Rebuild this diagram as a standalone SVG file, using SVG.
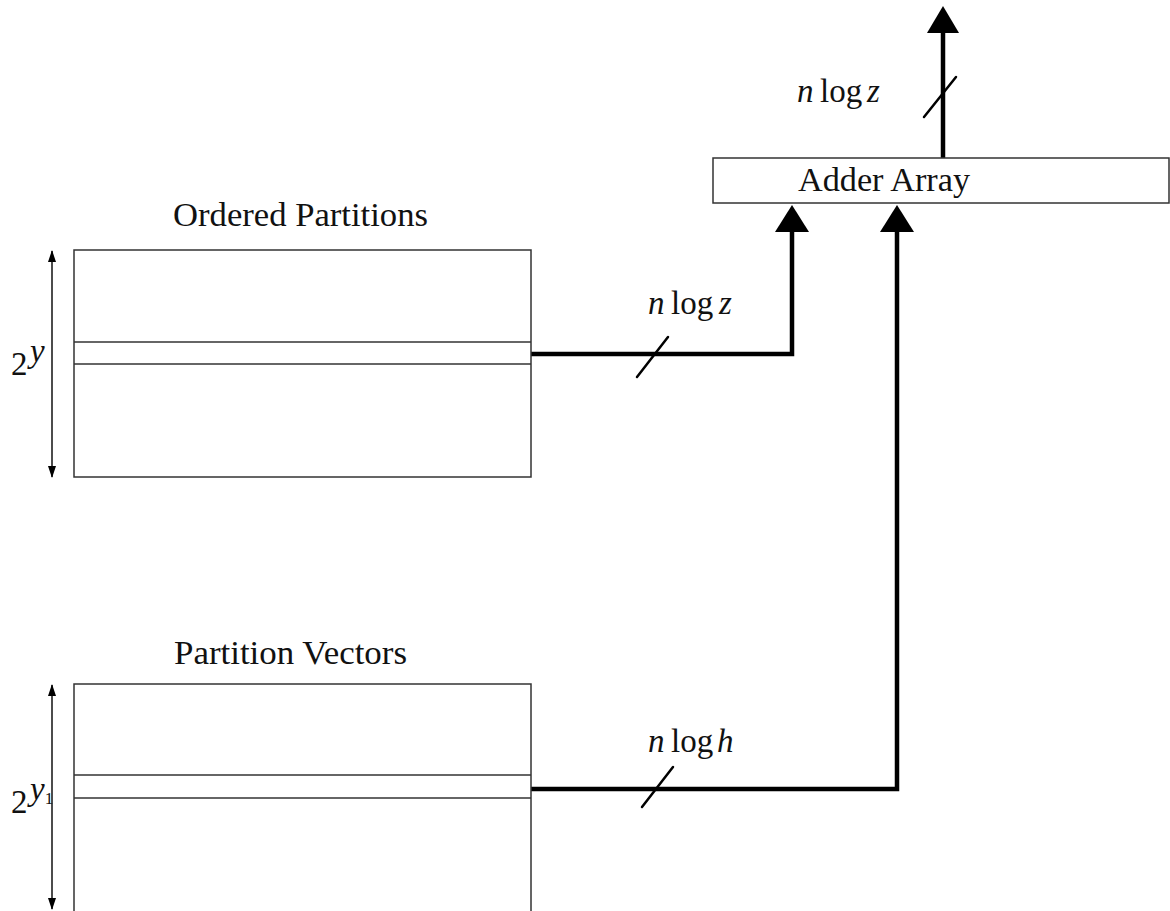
<svg xmlns="http://www.w3.org/2000/svg" width="1170" height="911" viewBox="0 0 1170 911">
<style>
.box{fill:#fff;stroke:#333;stroke-width:1.5}
.sep{stroke:#333;stroke-width:1.5}
.wire{fill:none;stroke:#000;stroke-width:4.5}
.slash{stroke:#000;stroke-width:2.5;stroke-linecap:round}
.dim{stroke:#111;stroke-width:1.5}
.t{font-family:"Liberation Serif",serif;font-size:33px;fill:#111}
.it{font-style:italic}
</style>
<defs>
<marker id="dh" viewBox="0 0 12 8" refX="11" refY="4" markerWidth="12" markerHeight="8" markerUnits="userSpaceOnUse" orient="auto-start-reverse">
<path d="M0,0 L12,4 L0,8 Z" fill="#000"/>
</marker>
</defs>
<rect width="1170" height="911" fill="#fff"/>

<g id="connectors">
<polyline class="wire" points="531,354 792,354 792,230"/>
<polygon points="775,232 809,232 792,205" fill="#000"/>
<line class="slash" x1="637" y1="377" x2="668" y2="337"/>
<polyline class="wire" points="531,789 897,789 897,230"/>
<polygon points="880,232 914,232 897,205" fill="#000"/>
<line class="slash" x1="642" y1="807" x2="673" y2="767"/>
<line class="wire" x1="943" y1="158" x2="943" y2="30"/>
<polygon points="927,33 959,33 943,6" fill="#000"/>
<line class="slash" x1="924" y1="117" x2="956" y2="77"/>
</g>

<g id="adder">
<rect class="box" x="713" y="158" width="456" height="45"/>
<text class="t" x="798" y="191" textLength="172" lengthAdjust="spacingAndGlyphs">Adder Array</text>
</g>

<g id="label-out">
<text class="t" y="102"><tspan class="it" x="797">n</tspan><tspan x="820">log</tspan><tspan class="it" x="867">z</tspan></text>
</g>
<g id="label-mid">
<text class="t" y="314"><tspan class="it" x="648">n</tspan><tspan x="671">log</tspan><tspan class="it" x="719">z</tspan></text>
</g>
<g id="label-low">
<text class="t" y="752"><tspan class="it" x="648">n</tspan><tspan x="671">log</tspan><tspan class="it" x="717">h</tspan></text>
</g>

<g id="ordered">
<text class="t" x="173" y="226" textLength="255" lengthAdjust="spacingAndGlyphs">Ordered Partitions</text>
<rect class="box" x="74" y="250" width="457" height="227"/>
<line class="sep" x1="74" y1="342" x2="531" y2="342"/>
<line class="sep" x1="74" y1="364" x2="531" y2="364"/>
<line class="dim" x1="52" y1="251" x2="52" y2="477" marker-start="url(#dh)" marker-end="url(#dh)"/>
<text class="t" x="11" y="375" font-size="34">2</text>
<text class="t it" x="30" y="362" font-size="22">y</text>
</g>

<g id="vectors">
<text class="t" x="174" y="664" textLength="233" lengthAdjust="spacingAndGlyphs">Partition Vectors</text>
<rect class="box" x="74" y="684" width="457" height="240"/>
<line class="sep" x1="74" y1="775" x2="531" y2="775"/>
<line class="sep" x1="74" y1="798" x2="531" y2="798"/>
<line class="dim" x1="52" y1="685" x2="52" y2="909" marker-start="url(#dh)" marker-end="url(#dh)"/>
<text class="t" x="11" y="813" font-size="34">2</text>
<text class="t it" x="30" y="800" font-size="22">y<tspan font-style="normal" font-size="17" dy="4">1</tspan></text>
</g>
</svg>
